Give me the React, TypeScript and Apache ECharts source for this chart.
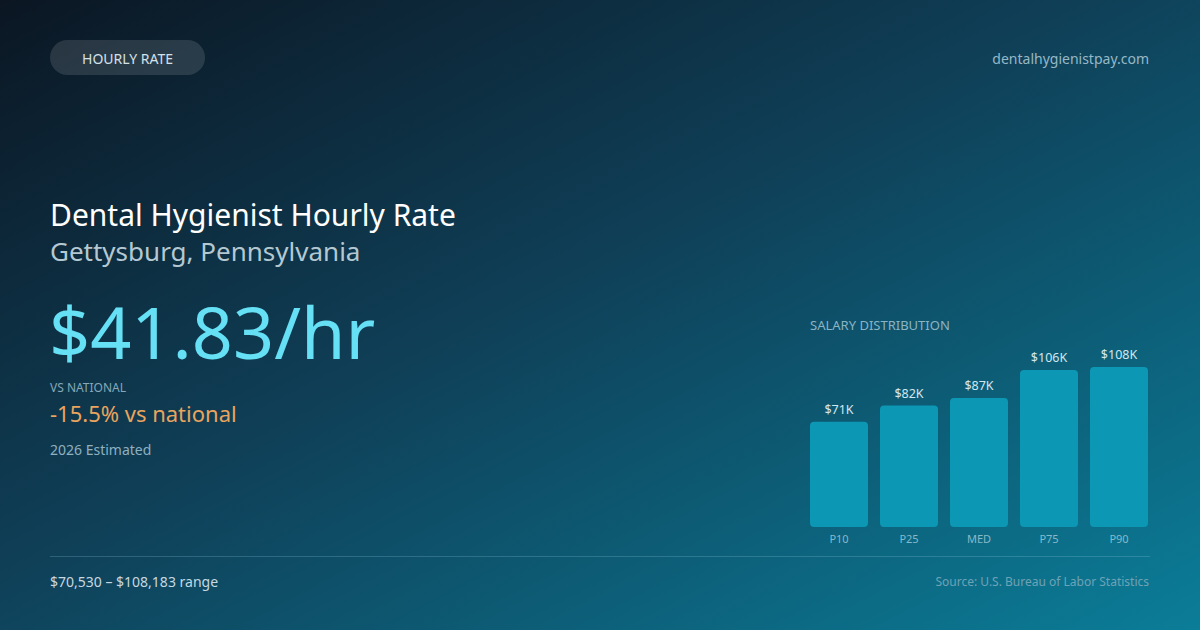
import * as echarts from "echarts";
import { useEffect, useRef } from "react";

const percentiles = ["P10", "P25", "MED", "P75", "P90"];
const salaryK = [71, 82, 87, 106, 108];

const FONT = '"Noto Sans", "Open Sans", sans-serif';

const App = () => {
  const chartRef = useRef<HTMLDivElement>(null);

  useEffect(() => {
    document.body.style.margin = "0";
    if (!chartRef.current) return;
    const chart = echarts.init(chartRef.current, null, { renderer: "svg" });

    const txt = (
      text: string,
      x: number,
      y: number,
      size: number,
      fill: string,
      align: string = "left",
      weight: string = "normal"
    ) => ({
      type: "text",
      x,
      y,
      silent: true,
      style: {
        text,
        fill,
        font: `${weight} ${size}px ${FONT}`,
        textAlign: align,
        textVerticalAlign: "middle",
      },
    });

    const option = {
      animation: false,
      backgroundColor: {
        type: "linear",
        x: 0,
        y: 0,
        x2: 1,
        y2: 1,
        colorStops: [
          { offset: 0, color: "#0b1622" },
          { offset: 0.45, color: "#0f3f57" },
          { offset: 1, color: "#0b7d98" },
        ],
      },
      grid: { left: 804, right: 46, top: 367, bottom: 103 },
      xAxis: {
        type: "category",
        data: percentiles,
        axisLine: { show: false },
        axisTick: { show: false },
        axisLabel: {
          color: "#86b9ca",
          fontSize: 11,
          fontFamily: FONT,
          margin: 6,
        },
      },
      yAxis: {
        type: "value",
        min: 0,
        max: "dataMax",
        show: false,
        splitLine: { show: false },
      },
      series: [
        {
          type: "bar",
          data: salaryK,
          barWidth: 58,
          itemStyle: { color: "#0c97b4", borderRadius: 4 },
          label: {
            show: true,
            position: "top",
            distance: 6,
            formatter: (p: any) => `$${p.value}K`,
            color: "#d3e7ef",
            fontSize: 12.5,
            fontFamily: FONT,
          },
        },
      ],
      graphic: [
        {
          type: "rect",
          silent: true,
          shape: { x: 50, y: 40, width: 155, height: 35, r: 17.5 },
          style: { fill: "rgba(255,255,255,0.12)" },
        },
        txt("HOURLY RATE", 127.5, 58, 14, "#d4e0e8", "center"),
        txt("dentalhygienistpay.com", 1149, 58, 14, "#96b8c6", "right"),
        txt("Dental Hygienist Hourly Rate", 50, 214, 30, "#ffffff"),
        txt("Gettysburg, Pennsylvania", 50, 251, 26, "#b4c8d2"),
        txt("$41.83/hr", 49, 331, 72, "#66e0f5"),
        txt("VS NATIONAL", 50, 387, 12, "#86a8b8"),
        txt("-15.5% vs national", 50, 413, 22, "#e9a45e"),
        txt("2026 Estimated", 50, 449, 14, "#8eb0c0"),
        txt("SALARY DISTRIBUTION", 810, 325, 13, "#8ab4c4"),
        {
          type: "line",
          silent: true,
          shape: { x1: 50, y1: 556.5, x2: 1150, y2: 556.5 },
          style: { stroke: "rgba(140,200,220,0.25)", lineWidth: 1 },
        },
        txt("$70,530 – $108,183 range", 50, 581, 14, "#c6d8e0"),
        txt("Source: U.S. Bureau of Labor Statistics", 1149, 581, 12, "#6fa2b6", "right"),
      ],
    };

    chart.setOption(option as any);

    return () => {
      chart.dispose();
    };
  }, []);

  return (
    <div
      ref={chartRef}
      style={{ position: "absolute", left: 0, top: 0, width: "1200px", height: "630px" }}
    />
  );
};

export default App;
